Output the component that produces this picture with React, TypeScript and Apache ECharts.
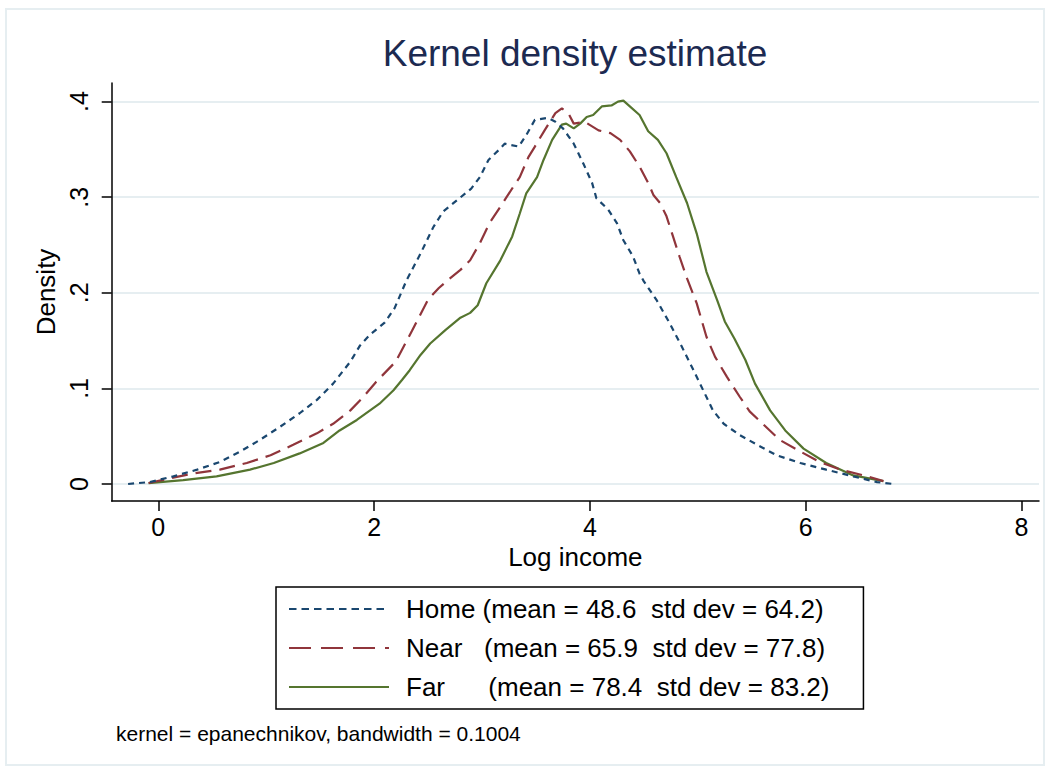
import React, { useEffect, useRef } from 'react';
import * as echarts from 'echarts';

const homeX = [-0.28, -0.08, 0.14, 0.36, 0.57, 0.76, 0.94, 1.13, 1.31, 1.47, 1.62, 1.78, 1.87, 1.96, 2.10, 2.19, 2.30, 2.43, 2.55, 2.64, 2.77, 2.90, 2.98, 3.06, 3.17, 3.21, 3.34, 3.41, 3.49, 3.61, 3.68, 3.75, 3.85, 3.94, 4.02, 4.06, 4.17, 4.25, 4.31, 4.40, 4.46, 4.50, 4.62, 4.74, 4.85, 4.96, 5.05, 5.14, 5.24, 5.39, 5.55, 5.73, 5.95, 6.19, 6.44, 6.66, 6.81];
const homeY = [0.000, 0.002, 0.008, 0.015, 0.023, 0.034, 0.046, 0.060, 0.074, 0.088, 0.105, 0.128, 0.145, 0.156, 0.169, 0.184, 0.213, 0.241, 0.269, 0.285, 0.297, 0.309, 0.321, 0.339, 0.351, 0.356, 0.353, 0.365, 0.381, 0.383, 0.379, 0.372, 0.356, 0.335, 0.315, 0.299, 0.287, 0.273, 0.255, 0.238, 0.220, 0.212, 0.192, 0.168, 0.144, 0.119, 0.098, 0.077, 0.063, 0.051, 0.041, 0.030, 0.022, 0.015, 0.008, 0.002, 0.000];

const nearX = [-0.09, 0.11, 0.32, 0.57, 0.82, 1.04, 1.25, 1.47, 1.62, 1.78, 1.90, 2.02, 2.20, 2.35, 2.50, 2.60, 2.69, 2.80, 2.89, 2.98, 3.07, 3.17, 3.29, 3.35, 3.43, 3.49, 3.58, 3.68, 3.74, 3.80, 3.85, 3.95, 4.08, 4.19, 4.28, 4.37, 4.46, 4.54, 4.59, 4.65, 4.71, 4.77, 4.83, 4.90, 4.99, 5.08, 5.16, 5.27, 5.39, 5.48, 5.61, 5.76, 5.95, 6.13, 6.32, 6.57, 6.72];
const nearY = [0.001, 0.006, 0.011, 0.015, 0.022, 0.030, 0.041, 0.053, 0.063, 0.077, 0.091, 0.107, 0.128, 0.160, 0.193, 0.205, 0.214, 0.224, 0.234, 0.252, 0.273, 0.290, 0.311, 0.321, 0.342, 0.353, 0.370, 0.388, 0.393, 0.388, 0.377, 0.379, 0.370, 0.367, 0.360, 0.348, 0.332, 0.315, 0.302, 0.294, 0.280, 0.259, 0.238, 0.215, 0.189, 0.154, 0.133, 0.112, 0.091, 0.076, 0.062, 0.046, 0.034, 0.023, 0.015, 0.008, 0.003];

const farX = [-0.09, 0.23, 0.54, 0.85, 1.07, 1.31, 1.53, 1.68, 1.84, 2.05, 2.18, 2.26, 2.33, 2.43, 2.52, 2.66, 2.80, 2.89, 2.96, 3.04, 3.17, 3.28, 3.35, 3.41, 3.51, 3.57, 3.65, 3.74, 3.78, 3.85, 3.91, 3.97, 4.03, 4.11, 4.20, 4.26, 4.31, 4.37, 4.46, 4.54, 4.63, 4.71, 4.80, 4.90, 4.99, 5.08, 5.18, 5.25, 5.34, 5.44, 5.53, 5.67, 5.81, 5.98, 6.19, 6.44, 6.72];
const farY = [0.001, 0.004, 0.008, 0.015, 0.022, 0.032, 0.043, 0.056, 0.067, 0.084, 0.098, 0.109, 0.119, 0.135, 0.147, 0.161, 0.174, 0.179, 0.187, 0.210, 0.234, 0.259, 0.283, 0.304, 0.321, 0.339, 0.360, 0.376, 0.377, 0.372, 0.377, 0.384, 0.386, 0.395, 0.396, 0.400, 0.401, 0.395, 0.386, 0.369, 0.360, 0.346, 0.321, 0.294, 0.262, 0.222, 0.192, 0.170, 0.152, 0.130, 0.105, 0.077, 0.056, 0.037, 0.022, 0.009, 0.003];

const xTicks = [0, 2, 4, 6, 8];
const yTicks = [0, 0.1, 0.2, 0.3, 0.4];
const seriesNames = [
  'Home (mean = 48.6  std dev = 64.2)',
  'Near   (mean = 65.9  std dev = 77.8)',
  'Far      (mean = 78.4  std dev = 83.2)',
];
const seriesColors = ['#1a476f', '#90353b', '#55752f'];
const titleText = 'Kernel density estimate';
const noteText = 'kernel = epanechnikov, bandwidth = 0.1004';

const pairs = (xs: number[], ys: number[]) => xs.map((x, i) => [x, ys[i]]);

export default function App() {
  const ref = useRef<HTMLDivElement>(null);
  useEffect(() => {
    const chart = echarts.init(ref.current!, null, { renderer: 'svg' });
    const font = "'Liberation Sans', Arial, Helvetica, sans-serif";
    const dashes = [[6, 5], [16, 8], null];
    const legendDashes = [[7.5, 5], [22, 10], null];
    const datas = [pairs(homeX, homeY), pairs(nearX, nearY), pairs(farX, farY)];
    chart.setOption({
      animation: false,
      backgroundColor: '#ffffff',
      textStyle: { fontFamily: font },
      grid: { left: 111.7, top: 83, right: 11, bottom: 270, containLabel: false },
      xAxis: {
        type: 'value',
        min: -0.432,
        max: 8.162,
        name: 'Log income',
        nameLocation: 'middle',
        nameGap: 42,
        nameTextStyle: { fontSize: 26, color: '#000', fontFamily: font },
        axisLine: { show: true, onZero: false, lineStyle: { color: '#000', width: 1.5 } },
        axisTick: { show: true, length: 10, customValues: xTicks, lineStyle: { color: '#000', width: 1.5 } },
        axisLabel: { customValues: xTicks, fontSize: 25, color: '#000', margin: 13, fontFamily: font },
        splitLine: { show: false },
      },
      yAxis: {
        type: 'value',
        min: -0.0178,
        max: 0.4195,
        name: 'Density',
        nameLocation: 'middle',
        nameRotate: 90,
        nameGap: 49,
        nameTextStyle: { fontSize: 26, color: '#000', fontFamily: font },
        axisLine: { show: true, onZero: false, lineStyle: { color: '#000', width: 1.5 } },
        axisTick: { show: true, length: 10, customValues: yTicks, lineStyle: { color: '#000', width: 1.5 } },
        axisLabel: {
          customValues: yTicks,
          rotate: 90,
          fontSize: 25,
          color: '#000',
          margin: 20,
          fontFamily: font,
          formatter: (v: number) => (Math.abs(v) < 1e-9 ? '0' : '.' + Math.round(v * 10)),
        },
        splitLine: { show: true, lineStyle: { color: '#e6eef1', width: 2 } },
      },
      legend: {
        orient: 'vertical',
        left: 276,
        top: 587,
        padding: [9, 34, 9, 12],
        borderColor: '#000',
        borderWidth: 1.5,
        itemWidth: 100,
        itemHeight: 14,
        itemGap: 13,
        data: seriesNames.map((name, i) => ({
          name,
          lineStyle: { color: seriesColors[i], width: 2, type: legendDashes[i] ? legendDashes[i] : 'solid' },
        })),
        itemStyle: { opacity: 0 },
        textStyle: { fontSize: 26, color: '#000', fontFamily: font, padding: [0, 0, 0, 12] },
      },
      series: seriesNames.map((name, i) => ({
        name,
        type: 'line',
        data: datas[i],
        showSymbol: false,
        symbol: 'none',
        smooth: false,
        lineStyle: { color: seriesColors[i], width: 2.2, type: dashes[i] ? dashes[i] : 'solid' },
        itemStyle: { color: seriesColors[i] },
        z: 3 - i,
      })),
      graphic: [
        {
          type: 'rect',
          silent: true,
          z: -10,
          shape: { x: 6, y: 9, width: 1038, height: 756 },
          style: { fill: 'none', stroke: '#e6eef1', lineWidth: 2 },
        },
        {
          type: 'text',
          x: 575,
          y: 53,
          style: { text: titleText, font: `37px ${font}`, fill: '#1c2a51', textAlign: 'center', textVerticalAlign: 'middle' },
        },
        {
          type: 'text',
          x: 116,
          y: 733,
          style: { text: noteText, font: `21px ${font}`, fill: '#000', textAlign: 'left', textVerticalAlign: 'middle' },
        },
      ],
    });
    return () => chart.dispose();
  }, []);
  return <div ref={ref} style={{ position: 'absolute', left: 0, top: 0, width: 1050, height: 771, background: '#fff' }} />;
}
